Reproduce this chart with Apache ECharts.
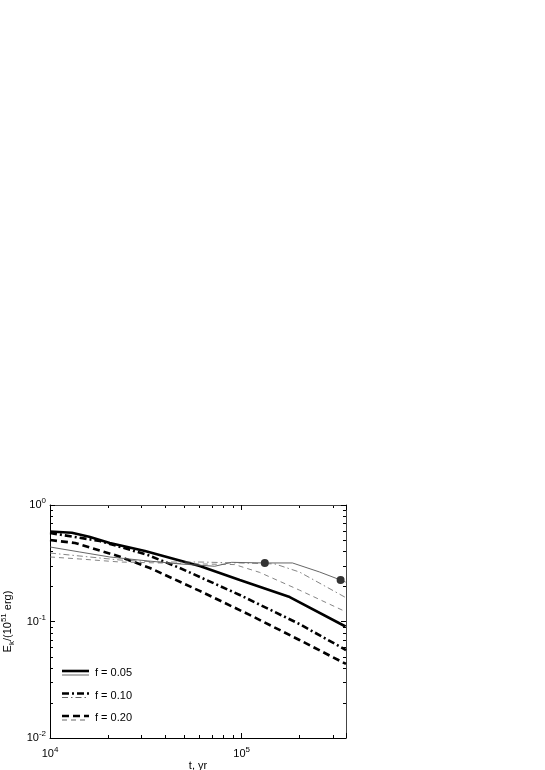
<!DOCTYPE html>
<html><head><meta charset="utf-8">
<script src="https://cdn.jsdelivr.net/npm/echarts@6/dist/echarts.min.js"></script>
<style>html,body{margin:0;padding:0;background:#fff}#c{width:545px;height:770px}</style>
</head><body><div id="c"></div>
<script>
// Data (t in yr, E_k in 1e51 erg)
const thickSolid05 = [[1e4,0.592],[1.3e4,0.578],[1.6e4,0.535],[2.05e4,0.472],[3.13e4,0.403],[6.04e4,0.300],[9.77e4,0.227],[1.78e5,0.162],[3.48e5,0.0906]];
const thickDashDot10 = [[1e4,0.575],[1.82e4,0.491],[3.24e4,0.372],[4.75e4,0.288],[9.77e4,0.169],[2.0e5,0.0952],[3.5e5,0.0569]];
const thickDash20 = [[1e4,0.50],[1.35e4,0.472],[2.26e4,0.365],[3.32e4,0.288],[6.04e4,0.183],[1.10e5,0.114],[2.0e5,0.0694],[3.5e5,0.0432]];
const thinSolid05 = [[1e4,0.436],[1.43e4,0.395],[2.05e4,0.358],[3.24e4,0.331],[4.75e4,0.312],[7.23e4,0.298],[8.87e4,0.322],[1.32e5,0.318],[1.84e5,0.318],[2.55e5,0.266],[3.28e5,0.227],[3.48e5,0.218]];
const thinDashDot10 = [[1e4,0.387],[1.43e4,0.365],[2.32e4,0.337],[3.74e4,0.324],[6.04e4,0.324],[9.77e4,0.318],[1.49e5,0.312],[2.0e5,0.266],[3.5e5,0.160]];
const thinDash20 = [[1e4,0.358],[1.43e4,0.344],[2.32e4,0.324],[3.74e4,0.318],[6.04e4,0.312],[9.2e4,0.308],[1.24e5,0.264],[2.0e5,0.186],[3.5e5,0.121]];
const markedPoints = [[1.32e5,0.318],[3.28e5,0.227]];
const xMinorTicks = [2e4,3e4,4e4,5e4,6e4,7e4,8e4,9e4,2e5,3e5];
const yMinorTicks = [0.02,0.03,0.04,0.05,0.06,0.07,0.08,0.09,0.2,0.3,0.4,0.5,0.6,0.7,0.8,0.9];
const legendLabels = ['f = 0.05','f = 0.10','f = 0.20'];

const FONT = 'Liberation Sans, Arial, sans-serif';
const chart = echarts.init(document.getElementById('c'), null, {renderer:'canvas'});

function powLabel(v){
  const e = Math.round(Math.log10(v));
  if (Math.abs(v - Math.pow(10,e)) / v > 1e-6) return '';
  return '{b|10}{s|' + e + '}';
}
const richLab = {
  b:{fontSize:11, fontFamily:FONT, color:'#000'},
  s:{fontSize:8, fontFamily:FONT, color:'#000', padding:[0,0,8,0]}
};
const axisCommon = {
  type:'log', logBase:10, interval:1,
  axisLine:{show:true, lineStyle:{color:'#000', width:1}},
  axisTick:{show:true, inside:true, length:5, lineStyle:{color:'#000', width:1}},
  splitLine:{show:false}, minorTick:{show:false}
};
const series = [
  {data:thickSolid05, color:'#000', width:2.6, type:'solid'},
  {data:thickDashDot10, color:'#000', width:2.6, type:[7,3,2,3]},
  {data:thickDash20, color:'#000', width:2.6, type:[7,4]},
  {data:thinSolid05, color:'#555', width:0.9, type:'solid'},
  {data:thinDashDot10, color:'#666', width:0.8, type:[6,3,1.5,3]},
  {data:thinDash20, color:'#666', width:0.8, type:[5,4]}
].map(s => ({
  type:'line', data:s.data, showSymbol:false, symbol:'none', smooth:false,
  lineStyle:{color:s.color, width:s.width, type:s.type}, silent:true, z:2
}));
series.push({type:'scatter', data:markedPoints, symbolSize:8, itemStyle:{color:'#333', opacity:1}, z:3, silent:true});

chart.setOption({
  animation:false,
  backgroundColor:'#fff',
  grid:{left:50, top:505, width:296, height:233, containLabel:false, outerBoundsMode:'none'},
  xAxis:[
    Object.assign({}, axisCommon, {min:1e4, max:3.5e5, position:'bottom',
      axisLabel:{show:true, formatter:powLabel, rich:richLab, margin:8},
      name:'t, yr', nameLocation:'middle', nameGap:22,
      nameTextStyle:{fontSize:11, fontFamily:FONT, color:'#000'}}),
    Object.assign({}, axisCommon, {min:1e4, max:3.5e5, position:'top',
      axisLine:{show:true, lineStyle:{color:'#444', width:1}},
      axisLabel:{show:false}})
  ],
  yAxis:[
    Object.assign({}, axisCommon, {min:0.01, max:1, position:'left',
      axisLabel:{show:true, formatter:powLabel, rich:richLab, margin:4},
      name:'{n|E}{sub|k}{n|/(10}{sup|51}{n| erg)}', nameLocation:'middle', nameGap:29, nameRotate:90,
      nameTextStyle:{rich:{
        n:{fontSize:11, fontFamily:FONT, color:'#000'},
        sub:{fontSize:8, fontFamily:FONT, color:'#000', padding:[7,0,0,0]},
        sup:{fontSize:8, fontFamily:FONT, color:'#000', padding:[0,0,8,0]}
      }}}),
    Object.assign({}, axisCommon, {min:0.01, max:1, position:'right',
      axisLine:{show:true, lineStyle:{color:'#444', width:1}},
      axisLabel:{show:false}})
  ],
  series:series
});

// minor ticks on all four sides + legend
const gx0 = chart.convertToPixel({xAxisIndex:0}, 1e4);
const gx1 = chart.convertToPixel({xAxisIndex:0}, 3.5e5);
const gy0 = chart.convertToPixel({yAxisIndex:0}, 0.01);
const gy1 = chart.convertToPixel({yAxisIndex:0}, 1);
const g = [];
const tickStyle = {stroke:'#000', lineWidth:1};
xMinorTicks.forEach(v => {
  const px = Math.round(chart.convertToPixel({xAxisIndex:0}, v)) + 0.5;
  g.push({type:'line', shape:{x1:px, y1:gy0, x2:px, y2:gy0-3}, style:tickStyle, silent:true});
  g.push({type:'line', shape:{x1:px, y1:gy1, x2:px, y2:gy1+3}, style:tickStyle, silent:true});
});
yMinorTicks.forEach(v => {
  const py = Math.round(chart.convertToPixel({yAxisIndex:0}, v)) + 0.5;
  g.push({type:'line', shape:{x1:gx0, y1:py, x2:gx0+3, y2:py}, style:tickStyle, silent:true});
  g.push({type:'line', shape:{x1:gx1, y1:py, x2:gx1-3, y2:py}, style:tickStyle, silent:true});
});
// legend
const legY = [671, 693.5, 716];
const legDash = [[null,null],[[7,3,2,3],[6,3,1.5,3]],[[7,4],[5,4]]];
legY.forEach((y,i) => {
  g.push({type:'line', shape:{x1:62, y1:y, x2:89, y2:y}, style:{stroke:'#000', lineWidth:2.6, lineDash:legDash[i][0]}, silent:true});
  g.push({type:'line', shape:{x1:62, y1:y+4, x2:89, y2:y+4}, style:{stroke:'#555', lineWidth:0.9, lineDash:legDash[i][1]}, silent:true});
  g.push({type:'text', x:95, y:y+2, style:{text:legendLabels[i], fontSize:11, fontFamily:FONT, fill:'#000', verticalAlign:'middle', align:'left'}, silent:true});
});
chart.setOption({graphic:g});
</script>
</body></html>
